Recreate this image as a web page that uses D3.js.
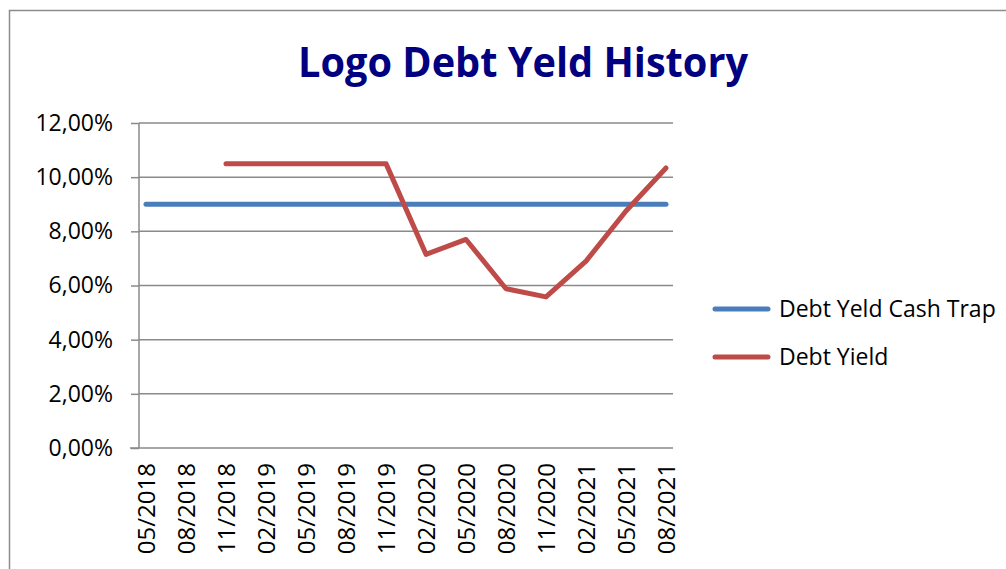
<!DOCTYPE html>
<html>
<head>
<meta charset="utf-8">
<script src="https://cdn.jsdelivr.net/npm/d3@7"></script>
<style>
  html, body { margin: 0; padding: 0; background: #fff; }
  svg { display: block; font-family: "Open Sans", sans-serif; }
</style>
</head>
<body>
<svg id="chart"></svg>
<script>
// categories (quarterly dates)
const dates = ["05/2018", "08/2018", "11/2018", "02/2019", "05/2019", "08/2019", "11/2019",
  "02/2020", "05/2020", "08/2020", "11/2020", "02/2021", "05/2021", "08/2021"];

// series values (fractions), null = no value
const cashTrap = [0.09, 0.09, 0.09, 0.09, 0.09, 0.09, 0.09, 0.09, 0.09, 0.09, 0.09, 0.09, 0.09, 0.09];
const debtYield = [null, null, 0.105, 0.105, 0.105, 0.105, 0.105,
  0.0715, 0.077, 0.0588, 0.0558, 0.069, 0.0875, 0.1034];

const yTicks = [0, 0.02, 0.04, 0.06, 0.08, 0.10, 0.12];

const seriesNames = ["Debt Yeld Cash Trap", "Debt Yield"];
const seriesColors = ["#4a7ebb", "#be4b48"];

const width = 1006;
const height = 569;

const svg = d3.select("#chart")
  .attr("width", width)
  .attr("height", height);

// outer chart border
svg.append("rect")
  .attr("x", 9.5)
  .attr("y", 10.5)
  .attr("width", 1010)
  .attr("height", 580)
  .attr("fill", "none")
  .attr("stroke", "#8c8c8c")
  .attr("stroke-width", 1.5);

// title
svg.append("text")
  .attr("x", 523)
  .attr("y", 77)
  .attr("text-anchor", "middle")
  .attr("fill", "#000080")
  .attr("font-weight", "bold")
  .attr("font-size", 41)
  .attr("textLength", 450)
  .attr("lengthAdjust", "spacingAndGlyphs")
  .text("Logo Debt Yeld History");

// scales
const x = d3.scalePoint()
  .domain(dates)
  .range([139, 673])
  .padding(0.175);

const y = d3.scaleLinear()
  .domain([0, 0.12])
  .range([448, 123]);

const fmt = d => d3.format(".2f")(d * 100).replace(".", ",") + "%";

// gridlines
svg.append("g")
  .selectAll("line")
  .data(yTicks.slice(1))
  .join("line")
  .attr("x1", 139)
  .attr("x2", 673)
  .attr("y1", d => y(d))
  .attr("y2", d => y(d))
  .attr("stroke", "#8a8a8a")
  .attr("stroke-width", 1.5);

// y axis
const yAxis = d3.axisLeft(y)
  .tickValues(yTicks)
  .tickFormat(fmt)
  .tickSize(8)
  .tickPadding(18);

const gy = svg.append("g")
  .attr("transform", "translate(139,0)")
  .call(yAxis);
gy.select(".domain").remove();
gy.selectAll(".tick line").attr("stroke", "#8a8a8a").attr("stroke-width", 1.5);
gy.selectAll(".tick text")
  .attr("font-family", "Open Sans")
  .attr("font-size", 23)
  .attr("fill", "#000");

svg.append("line")
  .attr("x1", 139).attr("x2", 139)
  .attr("y1", 123).attr("y2", 448)
  .attr("stroke", "#8a8a8a").attr("stroke-width", 1.5);

// x axis
const xAxis = d3.axisBottom(x).tickSize(0).tickPadding(0);
const gx = svg.append("g")
  .attr("transform", "translate(0,448)")
  .call(xAxis);
gx.select(".domain").remove();
gx.selectAll(".tick text")
  .attr("font-family", "Open Sans")
  .attr("font-size", 24)
  .attr("fill", "#000")
  .attr("text-anchor", "end")
  .attr("dy", "0.35em")
  .attr("transform", "translate(0,15) rotate(-90)")
  .attr("x", 0)
  .attr("y", 0);

svg.append("line")
  .attr("x1", 130).attr("x2", 673)
  .attr("y1", 448).attr("y2", 448)
  .attr("stroke", "#8a8a8a").attr("stroke-width", 1.5);

// lines
const line = d3.line()
  .defined(d => d.v != null)
  .x(d => x(d.date))
  .y(d => y(d.v));

[cashTrap, debtYield].forEach((vals, i) => {
  svg.append("path")
    .datum(vals.map((v, j) => ({ date: dates[j], v: v })))
    .attr("fill", "none")
    .attr("stroke", seriesColors[i])
    .attr("stroke-width", 5)
    .attr("stroke-linecap", "round")
    .attr("stroke-linejoin", "round")
    .attr("d", line);
});

// legend
const legend = svg.append("g")
  .attr("transform", "translate(715,309)");

const items = legend.selectAll("g")
  .data(seriesNames)
  .join("g")
  .attr("transform", (d, i) => `translate(0,${i * 48})`);

items.append("line")
  .attr("x1", 0).attr("x2", 53)
  .attr("stroke", (d, i) => seriesColors[i])
  .attr("stroke-width", 5)
  .attr("stroke-linecap", "round");

items.append("text")
  .attr("x", 64)
  .attr("dy", "0.35em")
  .attr("font-size", 23)
  .attr("fill", "#000")
  .text(d => d);
</script>
</body>
</html>
